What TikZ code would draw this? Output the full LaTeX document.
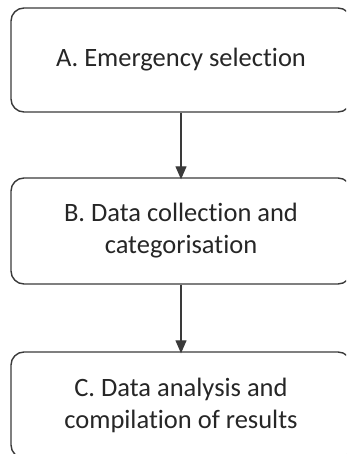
\documentclass[tikz,border=0pt]{standalone}
\usepackage{fontspec}
\setmainfont{Carlito}[Ligatures={NoCommon}]
\usetikzlibrary{arrows.meta}
\definecolor{linegray}{HTML}{3A3A3A}
\definecolor{textgray}{HTML}{262626}
\begin{document}
\begin{tikzpicture}[x=1pt,y=-1pt,
  stepbox/.style={draw=linegray, line width=1.4pt, rounded corners=13pt,
    minimum width=340pt, inner sep=0pt, align=center, text=textgray,
    font=\fontsize{26.5}{32}\selectfont},
  flow/.style={draw=linegray, line width=1.2pt,
    -{Triangle[width=11pt,length=13pt]}}]
\useasboundingbox (0,0) rectangle (346,454);
\clip (0,0) rectangle (346,454);
\node[stepbox, minimum height=104pt] (A) at (181,60) {A. Emergency selection};
\node[stepbox, minimum height=106pt] (B) at (181,231) {B. Data collection and\\categorisation};
\node[stepbox, minimum height=106pt] (C) at (181,405) {C. Data analysis and\\compilation of results};
\draw[flow] (A.south) -- ([yshift=-2pt]B.north);
\draw[flow] (B.south) -- ([yshift=-2pt]C.north);
\end{tikzpicture}
\end{document}
